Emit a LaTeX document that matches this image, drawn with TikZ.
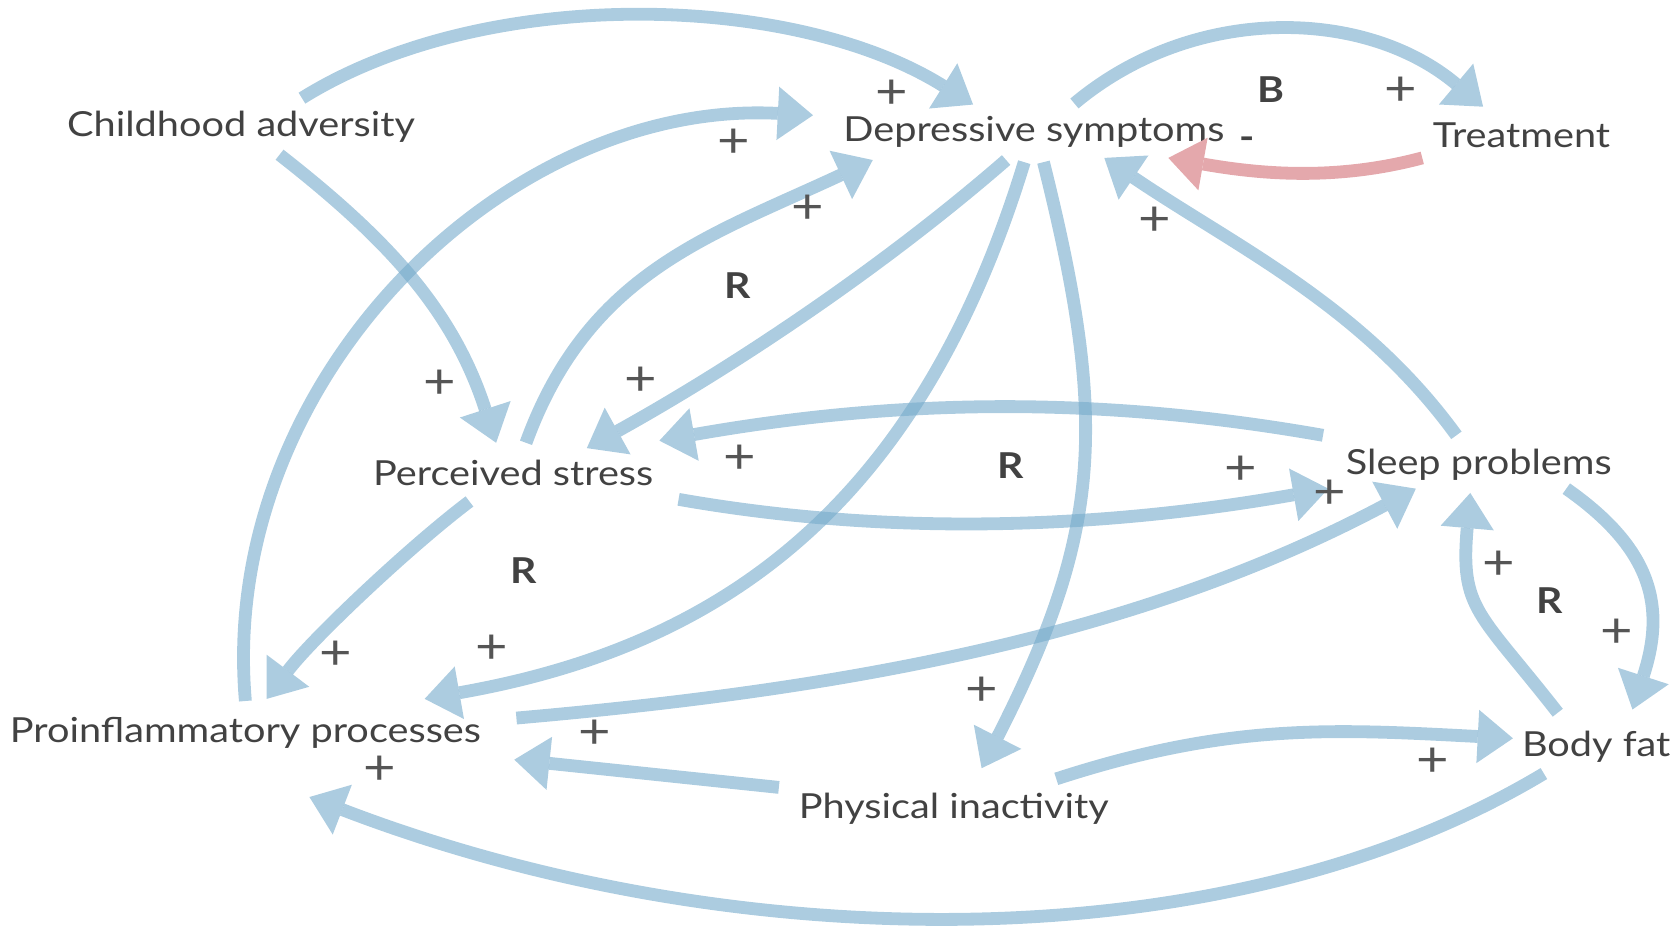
\documentclass[tikz,border=0pt]{standalone}
\usepackage{fontspec}
\setmainfont{Lato}[FakeStretch=1.15]
\usetikzlibrary{arrows.meta,calc}
\definecolor{linkblue}{RGB}{117,170,203}
\definecolor{linkred}{RGB}{228,168,172}
\definecolor{textgray}{RGB}{66,66,66}
\begin{document}
\begin{tikzpicture}[x=0.01cm, y=0.01cm,
    var/.style={anchor=base, text=textgray, inner sep=0pt, font=\fontsize{9.2}{11}\selectfont},
    sign/.style={text=textgray!90!white, inner sep=0pt, font=\fontsize{13}{14}\selectfont},
    loopname/.style={text=textgray, inner sep=0pt, font=\bfseries\fontsize{9.5}{11}\selectfont},
    link/.style={draw=linkblue, opacity=0.6, line width=0.12cm, -{Triangle[width=0.5cm, length=0.33cm, line width=0pt]}},
    balance/.style={link, draw=linkred, opacity=1}]
    \useasboundingbox (0, 0) rectangle (1568, 875);
    % variables
    \node[var] (child) at (226, 747) {Childhood adversity};
    \node[var] (dep) at (969, 742) {Depressive symptoms};
    \node[var] (treat) at (1426, 737) {Treatment};
    \node[var] (stress) at (481, 420) {Perceived stress};
    \node[var] (sleep) at (1386, 430) {Sleep problems};
    \node[var] (inflam) at (230, 179) {Proinflammatory processes};
    \node[var] (inact) at (894, 108) {Physical inactivity};
    \node[var] (fat) at (1496, 166) {Body fat};
    % links
    \draw[link] ($(child.base)+(57,36)$) .. controls +(32:200) and +(148:200) .. ($(dep.base)+(-57,35)$);
    \draw[link] ($(child.base)+(36,-17)$) .. controls +(-38:130) and +(108:130) .. ($(stress.base)+(-16,40)$);
    \draw[link] ($(inflam.base)+(0,39)$) .. controls +(95:300) and +(177:290) .. ($(dep.base)+(-207,25)$);
    \draw[link] ($(stress.base)+(12,40)$) .. controls +(70:170) and +(205:170) .. ($(dep.base)+(-151,-17)$);
    \draw[link] ($(dep.base)+(-26,-17)$) .. controls +(221:160) and +(29:150) .. ($(stress.base)+(69,35)$);
    \draw[link] ($(dep.base)+(-9,-19)$) .. controls +(253:340) and +(10:280) .. ($(inflam.base)+(168,41)$);
    \draw[link] ($(dep.base)+(9,-19)$) .. controls +(284:250) and +(63:250) .. ($(inact.base)+(26,47)$);
    \draw[link] ($(dep.base)+(38,36)$) .. controls +(40:145) and +(140:145) .. ($(treat.base)+(-36,38)$);
    \draw[balance] ($(treat.base)+(-93,-10)$) .. controls +(195:85) and +(350:85) .. ($(dep.base)+(126,-15)$);
    \draw[link] ($(sleep.base)+(-21,37)$) .. controls +(126:150) and +(326:150) .. ($(dep.base)+(66,-15)$);
    \draw[link] ($(sleep.base)+(-146,37)$) .. controls +(170:220) and +(10:220) .. ($(stress.base)+(137,42)$);
    \draw[link] ($(stress.base)+(155,-13)$) .. controls +(-10:208) and +(190:208) .. ($(sleep.base)+(-141,-13)$);
    \draw[link] ($(inflam.base)+(254,23)$) .. controls +(5:300) and +(208:300) .. ($(sleep.base)+(-59,-13)$);
    \draw[link] ($(stress.base)+(-41,-15)$) .. controls +(217:70) and +(53:70) .. ($(inflam.base)+(20,41)$);
    \draw[link] ($(inact.base)+(-164,29)$) -- ($(inflam.base)+(252,-16)$);
    \draw[link] ($(inact.base)+(96,37)$) .. controls +(18:170) and +(177:170) .. ($(fat.base)+(-78,17)$);
    \draw[link] ($(fat.base)+(-49,-16)$) .. controls +(211:350) and +(339:420) .. ($(inflam.base)+(60,-51)$);
    \draw[link] ($(fat.base)+(-36,41)$) .. controls +(128:120) and +(-95:110) .. ($(sleep.base)+(-8,-17)$);
    \draw[link] ($(sleep.base)+(82,-13)$) .. controls +(-35:100) and +(72:100) .. ($(fat.base)+(34,44)$);
    % polarities
    \node[sign] (p1) at (836, 787) {+};
    \node[sign] (p2) at (688, 741) {+};
    \node[sign] (p3) at (757, 679) {+};
    \node[sign] (p4) at (601, 518) {+};
    \node[sign] (p5) at (412, 515) {+};
    \node[sign] (p6) at (693, 445) {+};
    \node[sign] (p7) at (1163, 434) {+};
    \node[sign] (p8) at (1246, 412) {+};
    \node[sign] (p9) at (461, 266) {+};
    \node[sign] (p10) at (315, 261) {+};
    \node[sign] (p11) at (557, 187) {+};
    \node[sign] (p12) at (356, 153) {+};
    \node[sign] (p13) at (920, 227) {+};
    \node[sign] (p14) at (1343, 161) {+};
    \node[sign] (p15) at (1405, 345) {+};
    \node[sign] (p16) at (1515, 281) {+};
    \node[sign] (p17) at (1082, 668) {+};
    \node[sign] (p18) at (1313, 789) {+};
    \node[loopname] (m1) at (1169, 741) {-};
    % loops
    \node[loopname] (r1) at (691, 607) {R};
    \node[loopname] (r2) at (947, 439) {R};
    \node[loopname] (r3) at (491, 340) {R};
    \node[loopname] (r4) at (1452, 312) {R};
    \node[loopname] (b1) at (1191, 791) {B};
\end{tikzpicture}
\end{document}
